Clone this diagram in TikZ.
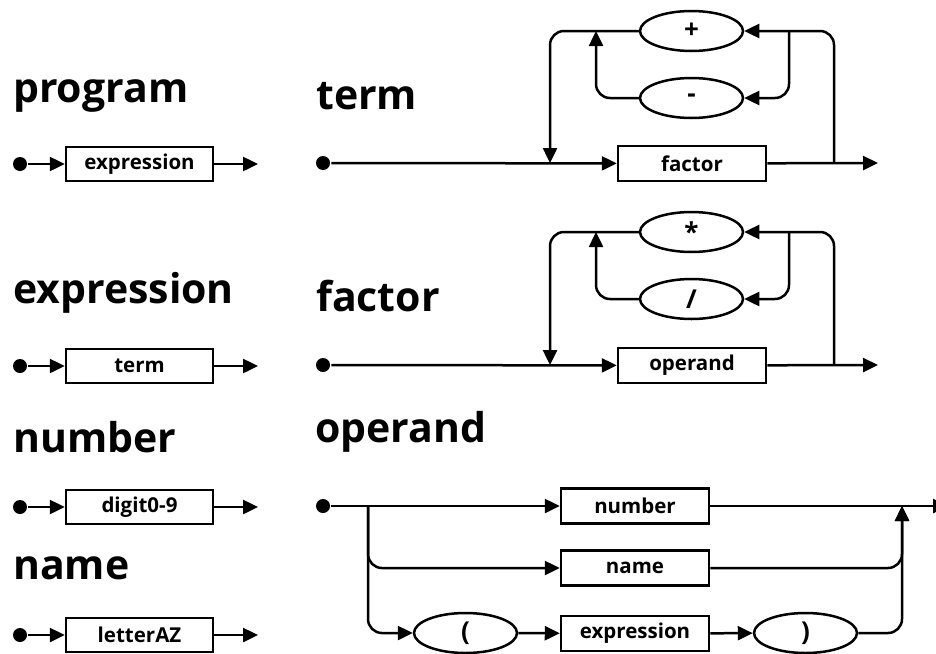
\documentclass[tikz,border=0pt]{standalone}
\usepackage{fontspec}
\setmainfont{Open Sans}
\usetikzlibrary{arrows.meta,shapes.geometric}
\begin{document}
\begin{tikzpicture}[x=1pt,y=-1pt,
  line width=2.5pt,
  arr/.style={-{Triangle[length=15pt,width=14pt]}},
  ttl/.style={anchor=base west,inner sep=0pt,font=\fontsize{41}{41}\selectfont\bfseries},
  lbox/.style={draw,rectangle,minimum width=147pt,minimum height=34pt,inner sep=0pt,font=\fontsize{20.5}{20.5}\selectfont\bfseries},
  rbox/.style={lbox,minimum width=148pt,minimum height=35pt},
  oval/.style={draw,ellipse,minimum width=103pt,minimum height=40pt,inner sep=0pt,font=\fontsize{26}{26}\selectfont\bfseries},
  startdot/.style={circle,fill,inner sep=0pt,minimum size=14pt},
  rc/.style={rounded corners=14pt}]
\useasboundingbox (0,0) rectangle (936,653);

% ---------- left column ----------
\node[ttl] (tprog) at (12,102) {program};
\node[startdot] (d1) at (20,164) {};
\node[lbox] (b1) at (139.5,164) {expression};
\coordinate (e1) at (258,164);
\draw[arr] (d1) -- (b1);
\draw[arr] (b1) -- (e1);

\node[ttl] (texpr) at (12,303) {expression};
\node[startdot] (d2) at (20,366) {};
\node[lbox] (b2) at (139.5,366) {term};
\coordinate (e2) at (258,366);
\draw[arr] (d2) -- (b2);
\draw[arr] (b2) -- (e2);

\node[ttl] (tnum) at (12,452) {number};
\node[startdot] (d3) at (20,507) {};
\node[lbox] (b3) at (139.5,507) {digit0-9};
\coordinate (e3) at (258,507);
\draw[arr] (d3) -- (b3);
\draw[arr] (b3) -- (e3);

\node[ttl] (tname) at (12,579) {name};
\node[startdot] (d4) at (20,635) {};
\node[lbox] (b4) at (139.5,635) {letterAZ};
\coordinate (e4) at (258,635);
\draw[arr] (d4) -- (b4);
\draw[arr] (b4) -- (e4);

% ---------- term ----------
\node[ttl] (tterm) at (315,109) {term};
\node[startdot] (d5) at (323,163) {};
\node[rbox] (bfactor) at (692,163.5) {factor};
\coordinate (t5end) at (878,163);
\node[oval] (oplus) at (691.5,31) {+};
\node[oval] (ominus) at (691.5,98) {-};
\coordinate (t5a) at (834,163);
\coordinate (t5b) at (789,31);
\coordinate (t5c) at (596,31);
\coordinate (t5d) at (550,163);
\draw[arr] (d5) -- (bfactor);
\draw[arr] (bfactor) -- (t5end);
\draw[arr,rc] (t5a) |- (oplus);
\draw[arr,rc] (t5b) |- (ominus);
\draw[arr,rc] (ominus) -| (t5c);
\draw[arr,rc] (oplus) -| (t5d);

% ---------- factor ----------
\node[ttl] (tfactor) at (315,311) {factor};
\node[startdot] (d6) at (323,365) {};
\node[rbox] (boperand) at (692,365.5) {operand};
\coordinate (t6end) at (878,365);
\node[oval] (otimes) at (691.5,232) {*};
\node[oval] (odiv) at (691.5,299) {/};
\coordinate (t6a) at (834,365);
\coordinate (t6b) at (789,232);
\coordinate (t6c) at (596,232);
\coordinate (t6d) at (550,365);
\draw[arr] (d6) -- (boperand);
\draw[arr] (boperand) -- (t6end);
\draw[arr,rc] (t6a) |- (otimes);
\draw[arr,rc] (t6b) |- (odiv);
\draw[arr,rc] (odiv) -| (t6c);
\draw[arr,rc] (otimes) -| (t6d);

% ---------- operand ----------
\node[ttl] (toperand) at (314,442) {operand};
\node[startdot] (d7) at (323,506) {};
\node[rbox] (bnum) at (635,506) {number};
\node[rbox] (bname) at (635,568) {name};
\node[rbox] (bexpr) at (635,633.5) {expression};
\node[oval] (olp) at (465.5,633) {(};
\node[oval] (orp) at (805.5,633) {)};
\coordinate (o1) at (368,506);
\coordinate (o2) at (902,506);
\coordinate (oend) at (948,506);
\draw[arr] (d7) -- (bnum);
\draw[arr] (bnum) -- (oend);
\draw[arr,rc] (o1) |- (bname);
\draw[arr,rc] (o1) |- (olp);
\draw[arr] (olp) -- (bexpr);
\draw[arr] (bexpr) -- (orp);
\draw[arr,rc] (bname) -| (o2);
\draw[arr,rc] (orp) -| (o2);
\end{tikzpicture}
\end{document}
